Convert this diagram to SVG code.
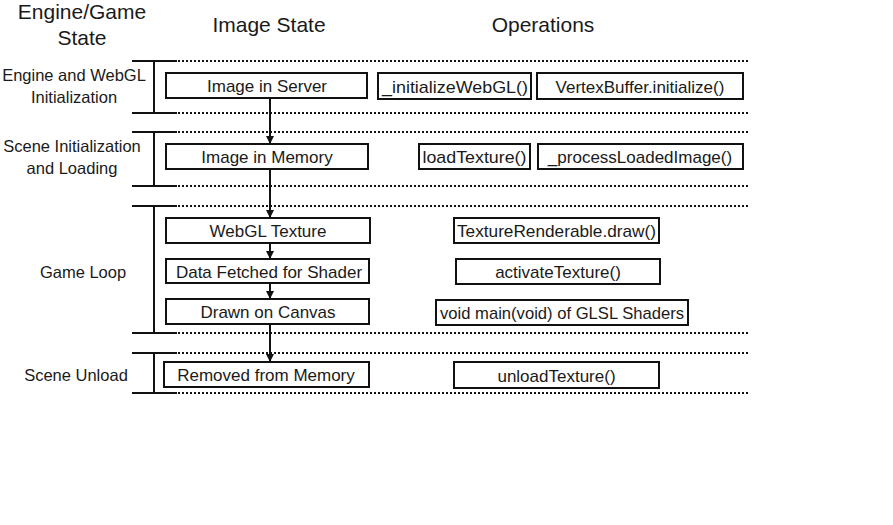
<svg xmlns="http://www.w3.org/2000/svg" width="893" height="525" viewBox="0 0 893 525">
<style>
text{font-family:"Liberation Sans",Arial,sans-serif;fill:#1a1a1a;text-anchor:middle}
.h{font-size:21px}
.l{font-size:16.5px}
.b{font-size:17px}
.box{fill:#fff;stroke:#111;stroke-width:2}
.solid{stroke:#111;stroke-width:2;fill:none}
.dot{stroke:#111;stroke-width:2;stroke-dasharray:2 2;fill:none}
.arr{stroke:#111;stroke-width:2;fill:none;marker-end:url(#ah)}
</style>
<defs>
<marker id="ah" viewBox="0 0 10 10" refX="10" refY="5" markerWidth="8" markerHeight="8" markerUnits="userSpaceOnUse" orient="auto">
<path d="M0,0 L10,5 L0,10 z" fill="#111"/>
</marker>
</defs>
<rect width="893" height="525" fill="#fff"/>
<g id="headers">
<text class="h" x="82" y="19">Engine/Game</text>
<text class="h" x="82" y="45">State</text>
<text class="h" x="269" y="32">Image State</text>
<text class="h" x="543" y="32">Operations</text>
</g>
<g id="bands">
<path class="solid" d="M132,61H177M154,61V113M132,113H177"/>
<path class="dot" d="M178,61H748M178,113H748"/>
<path class="solid" d="M132,132H177M154,132V186M132,186H177"/>
<path class="dot" d="M178,132H748M178,186H748"/>
<path class="solid" d="M132,206H177M154,206V333M132,333H177"/>
<path class="dot" d="M178,206H748M178,333H748"/>
<path class="solid" d="M132,353H177M154,353V393M132,393H177"/>
<path class="dot" d="M178,353H748M178,393H748"/>
</g>
<g id="band-labels">
<text class="l" x="74" y="81">Engine and WebGL</text>
<text class="l" x="74" y="103">Initialization</text>
<text class="l" x="72" y="152">Scene Initialization</text>
<text class="l" x="72" y="174">and Loading</text>
<text class="l" x="83" y="278">Game Loop</text>
<text class="l" x="76" y="381">Scene Unload</text>
</g>
<g id="connectors">
<path class="arr" d="M270,98V144"/>
<path class="arr" d="M270,169V218"/>
<path class="arr" d="M270,243V259"/>
<path class="arr" d="M270,283V299"/>
<path class="arr" d="M270,324V362"/>
</g>
<g id="n-server"><rect class="box" x="166" y="73" width="201" height="25"/><text class="b" x="267" y="92">Image in Server</text></g>
<g id="n-memory"><rect class="box" x="166" y="144" width="202" height="25"/><text class="b" x="267" y="163">Image in Memory</text></g>
<g id="n-texture"><rect class="box" x="166" y="218" width="204" height="25"/><text class="b" x="268" y="237">WebGL Texture</text></g>
<g id="n-fetched"><rect class="box" x="166" y="259" width="203" height="24"/><text class="b" x="269" y="277.5">Data Fetched for Shader</text></g>
<g id="n-drawn"><rect class="box" x="166" y="299" width="203" height="25"/><text class="b" x="268" y="318">Drawn on Canvas</text></g>
<g id="n-removed"><rect class="box" x="164" y="362" width="205" height="25"/><text class="b" x="266" y="381">Removed from Memory</text></g>
<g id="o-initwebgl"><rect class="box" x="378" y="73" width="153" height="26"/><text class="b" x="455" y="92.5" textLength="146" lengthAdjust="spacingAndGlyphs">_initializeWebGL()</text></g>
<g id="o-vertexbuffer"><rect class="box" x="537" y="73" width="206" height="26"/><text class="b" x="640" y="92.5">VertexBuffer.initialize()</text></g>
<g id="o-loadtexture"><rect class="box" x="419" y="144" width="111" height="25"/><text class="b" x="474.5" y="163" textLength="104" lengthAdjust="spacingAndGlyphs">loadTexture()</text></g>
<g id="o-process"><rect class="box" x="538" y="144" width="205" height="25"/><text class="b" x="640" y="163">_processLoadedImage()</text></g>
<g id="o-draw"><rect class="box" x="454" y="218" width="205" height="25"/><text class="b" x="556.5" y="237" textLength="199" lengthAdjust="spacingAndGlyphs">TextureRenderable.draw()</text></g>
<g id="o-activate"><rect class="box" x="456" y="259" width="204" height="25"/><text class="b" x="558" y="278">activateTexture()</text></g>
<g id="o-main"><rect class="box" x="436" y="300" width="252" height="25"/><text class="b" x="562" y="319" textLength="244" lengthAdjust="spacingAndGlyphs">void main(void) of GLSL Shaders</text></g>
<g id="o-unload"><rect class="box" x="454" y="362" width="205" height="26"/><text class="b" x="556.5" y="381.5">unloadTexture()</text></g>
</svg>
